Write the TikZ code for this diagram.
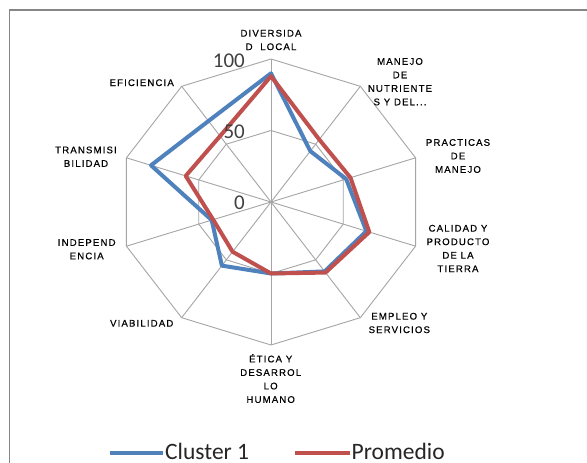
\documentclass[tikz,border=0pt]{standalone}
\usepackage{fontspec}
\setmainfont{Liberation Sans}
\newfontfamily\lblfont[LetterSpace=12,FakeBold=0.5]{Liberation Sans}
\newfontfamily\calfont{Carlito}
\definecolor{serA}{RGB}{79,129,189}
\definecolor{serB}{RGB}{192,80,77}
\definecolor{gridc}{RGB}{165,165,165}
\definecolor{framec}{RGB}{134,134,134}
\begin{document}
\begin{tikzpicture}[x=1pt,y=-1pt,
 axlabel/.style={font=\lblfont\fontsize{9.6}{13.5}\selectfont, align=center, inner sep=0pt, text=black},
 scalelabel/.style={font=\calfont\fontsize{21}{21}\selectfont, anchor=east, inner sep=0pt, text=black!75},
 gridline/.style={draw=gridc, line width=0.9pt},
 serieA/.style={draw=serA, line width=4pt, line join=round},
 serieB/.style={draw=serB, line width=4pt, line join=round},
 legline/.style={line width=4pt},
 legtext/.style={font=\calfont\fontsize{23.5}{24}\selectfont, anchor=base west, inner sep=0pt, text=black!85}]
\useasboundingbox (0,0) rectangle (587,463);
\fill[white] (0,0) rectangle (587,463);
\draw[framec, line width=1.8pt] (9.5,600) -- (9.5,10) -- (700,10);
\begin{scope}[shift={(271,202)}, x=152pt, y=143pt]
 \coordinate (O) at (0,0);
 \foreach \k in {0,...,9} {
   \coordinate (V\k) at ({90-36*\k}:1);
   \coordinate (M\k) at ({90-36*\k}:0.5);
 }
 \draw[gridline] (V0) -- (V1) -- (V2) -- (V3) -- (V4) -- (V5) -- (V6) -- (V7) -- (V8) -- (V9) -- cycle;
 \draw[gridline] (M0) -- (M1) -- (M2) -- (M3) -- (M4) -- (M5) -- (M6) -- (M7) -- (M8) -- (M9) -- cycle;
 \foreach \k in {0,...,9} { \draw[gridline] (O) -- (V\k); }
 \draw[serieA] (90:0.90) -- (54:0.44) -- (18:0.52) -- (-18:0.66) -- (-54:0.60) -- (-90:0.50) -- (-126:0.55) -- (-162:0.41) -- (162:0.83) -- (126:0.70) -- cycle;
 \draw[serieB] (90:0.88) -- (54:0.54) -- (18:0.55) -- (-18:0.68) -- (-54:0.61) -- (-90:0.50) -- (-126:0.43) -- (-162:0.40) -- (162:0.59) -- (126:0.57) -- cycle;
\end{scope}
% scale labels
\node[scalelabel] (s100) at (245,60.5) {100};
\node[scalelabel] (s50) at (245,131.5) {50};
\node[scalelabel] (s0) at (245,203) {0};
% axis labels
\node[axlabel] (l0) at (271,40) {DIVERSIDA\\D~~LOCAL};
\node[axlabel] (l1) at (400,81.7) {MANEJO\\DE\\NUTRIENTE\\S Y DEL...};
\node[axlabel] (l2) at (458,156) {PRACTICAS\\DE\\MANEJO};
\node[axlabel] (l3) at (458,248.5) {CALIDAD Y\\PRODUCTO\\DE LA\\TIERRA};
\node[axlabel] (l4) at (399.3,323) {EMPLEO Y\\SERVICIOS};
\node[axlabel] (l5) at (270.7,378.5) {ÉTICA Y\\DESARROL\\LO\\HUMANO};
\node[axlabel] (l6) at (141.7,323.3) {VIABILIDAD};
\node[axlabel] (l7) at (86.7,249.3) {INDEPEND\\ENCIA};
\node[axlabel] (l8) at (86,156.7) {TRANSMISI\\BILIDAD};
\node[axlabel] (l9) at (141.7,82.7) {EFICIENCIA};
% legend
\coordinate (la1) at (110,453);
\coordinate (la2) at (163,453);
\coordinate (lb1) at (295,453);
\coordinate (lb2) at (350,453);
\draw[serA, legline] (la1) -- (la2);
\draw[serB, legline] (lb1) -- (lb2);
\node[legtext] (ta) at (165,459) {Cluster 1};
\node[legtext] (tb) at (351.5,459) {Promedio};
\end{tikzpicture}
\end{document}
